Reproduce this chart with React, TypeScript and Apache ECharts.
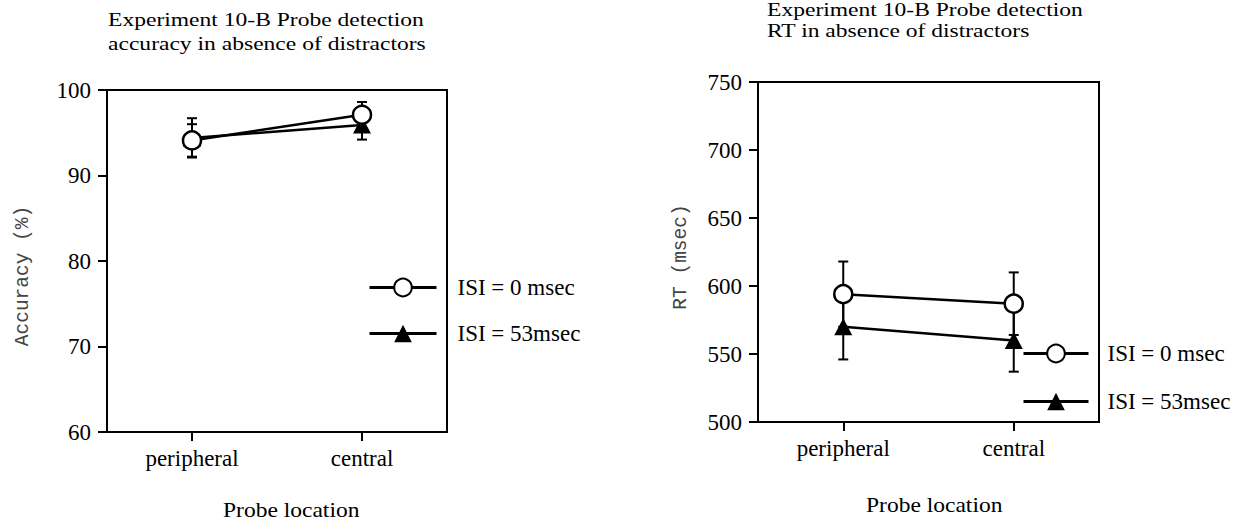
import React, { useEffect, useRef } from "react";
import * as echarts from "echarts";

const categories = ["peripheral", "central"];
const seriesNames = ["ISI = 0 msec", "ISI = 53msec"];

// Left chart: accuracy (%)
const accIsi0 = [94.1, 97.1];
const accIsi53 = [94.4, 95.9];
const accIsi0Err = [1.9, 1.5];
const accIsi53Err = [2.3, 1.7];

// Right chart: RT (msec)
const rtIsi0 = [594, 587];
const rtIsi53 = [570, 560];
const rtIsi0Err = [24, 23];
const rtIsi53Err = [24, 23];

const accTicks = { min: 60, max: 100, interval: 10 };
const rtTicks = { min: 500, max: 750, interval: 50 };

const SERIF = '"Liberation Serif", "Times New Roman", serif';
const MONO = '"Liberation Mono", "DejaVu Sans Mono", monospace';

function errData(vals: number[], errs: number[]) {
  return vals.map((v, i) => [i, v - errs[i], v + errs[i]]);
}

const errRender = (params: any, api: any) => {
  const lo = api.coord([api.value(0), api.value(1)]);
  const hi = api.coord([api.value(0), api.value(2)]);
  const cw = 5;
  const st = { stroke: "#000", lineWidth: 2 };
  return {
    type: "group",
    children: [
      { type: "line", shape: { x1: lo[0], y1: lo[1], x2: hi[0], y2: hi[1] }, style: st },
      { type: "line", shape: { x1: lo[0] - cw, y1: lo[1], x2: lo[0] + cw, y2: lo[1] }, style: st },
      { type: "line", shape: { x1: hi[0] - cw, y1: hi[1], x2: hi[0] + cw, y2: hi[1] }, style: st },
    ],
  };
};

function xAxisCfg(gridIndex: number) {
  return {
    type: "category",
    gridIndex,
    data: categories,
    boundaryGap: true,
    axisLine: { show: true, lineStyle: { color: "#000", width: 2 } },
    axisTick: { show: true, alignWithLabel: true, length: 9, lineStyle: { color: "#000", width: 2 } },
    axisLabel: { color: "#000", fontFamily: SERIF, fontSize: 23, margin: 15 },
    splitLine: { show: false },
  };
}

function yAxisCfg(gridIndex: number, t: { min: number; max: number; interval: number }) {
  return {
    type: "value",
    gridIndex,
    min: t.min,
    max: t.max,
    interval: t.interval,
    axisLine: { show: true, lineStyle: { color: "#000", width: 2 } },
    axisTick: { show: true, length: 9, lineStyle: { color: "#000", width: 2 } },
    axisLabel: { color: "#000", fontFamily: SERIF, fontSize: 23, margin: 16 },
    splitLine: { show: false },
  };
}

function lineSeries(name: string, idx: number, data: number[], open: boolean) {
  return {
    type: "line",
    name,
    xAxisIndex: idx,
    yAxisIndex: idx,
    data,
    symbol: open ? "circle" : "triangle",
    symbolSize: open ? 18 : [18, 17],
    z: open ? 5 : 4,
    lineStyle: { color: "#000", width: 2.5 },
    itemStyle: open
      ? { color: "#fff", borderColor: "#000", borderWidth: 2.5 }
      : { color: "#000", borderColor: "#000", borderWidth: 0 },
  };
}

function legendCfg(left: number, top: number, itemWidth: number, gap: number, pad: number) {
  return {
    orient: "vertical",
    left,
    top,
    padding: 0,
    itemWidth,
    itemHeight: 22,
    itemGap: gap,
    data: seriesNames,
    selectedMode: false,
    lineStyle: { width: 3, color: "#000" },
    textStyle: { color: "#000", fontFamily: SERIF, fontSize: 23, lineHeight: 22, padding: [0, 0, 0, pad] },
  };
}

export default function App() {
  const ref = useRef<HTMLDivElement>(null);
  useEffect(() => {
    if (!ref.current) return;
    const chart = echarts.init(ref.current, null, { renderer: "svg" });
    chart.setOption({
      animation: false,
      backgroundColor: "#fff",
      grid: [
        { left: 107, top: 90, width: 340, height: 342, show: true, borderColor: "#000", borderWidth: 2, backgroundColor: "transparent" },
        { left: 758, top: 82, width: 341, height: 340, show: true, borderColor: "#000", borderWidth: 2, backgroundColor: "transparent" },
      ],
      xAxis: [xAxisCfg(0), xAxisCfg(1)],
      yAxis: [yAxisCfg(0, accTicks), yAxisCfg(1, rtTicks)],
      legend: [legendCfg(368, 276, 67, 23, 16), legendCfg(1022, 342, 65, 25, 14)],
      graphic: [
        {
          type: "text", x: 108, y: 8, scaleX: 1.24,
          style: { text: "Experiment 10-B Probe detection\naccuracy in absence of distractors", font: `19px ${SERIF}`, lineHeight: 24, fill: "#000" },
        },
        {
          type: "text", x: 767, y: -1, scaleX: 1.24,
          style: { text: "Experiment 10-B Probe detection\nRT in absence of distractors", font: `19px ${SERIF}`, lineHeight: 21, fill: "#000" },
        },
        {
          type: "text", x: 23, y: 276, rotation: Math.PI / 2,
          style: { text: "Accuracy (%)", font: `19.5px ${MONO}`, fill: "#444", align: "center", verticalAlign: "middle" },
        },
        {
          type: "text", x: 681, y: 257, rotation: Math.PI / 2,
          style: { text: "RT (msec)", font: `19.5px ${MONO}`, fill: "#444", align: "center", verticalAlign: "middle" },
        },
        {
          type: "text", x: 223, y: 510, scaleX: 1.12,
          style: { text: "Probe location", font: `21px ${SERIF}`, fill: "#000", align: "left", verticalAlign: "middle" },
        },
        {
          type: "text", x: 866, y: 505, scaleX: 1.12,
          style: { text: "Probe location", font: `21px ${SERIF}`, fill: "#000", align: "left", verticalAlign: "middle" },
        },
      ],
      series: [
        { type: "custom", xAxisIndex: 0, yAxisIndex: 0, renderItem: errRender, data: errData(accIsi0, accIsi0Err), z: 2, encode: { x: 0, y: [1, 2] } },
        { type: "custom", xAxisIndex: 0, yAxisIndex: 0, renderItem: errRender, data: errData(accIsi53, accIsi53Err), z: 2, encode: { x: 0, y: [1, 2] } },
        { type: "custom", xAxisIndex: 1, yAxisIndex: 1, renderItem: errRender, data: errData(rtIsi0, rtIsi0Err), z: 2, encode: { x: 0, y: [1, 2] } },
        { type: "custom", xAxisIndex: 1, yAxisIndex: 1, renderItem: errRender, data: errData(rtIsi53, rtIsi53Err), z: 2, encode: { x: 0, y: [1, 2] } },
        lineSeries(seriesNames[0], 0, accIsi0, true),
        lineSeries(seriesNames[1], 0, accIsi53, false),
        lineSeries(seriesNames[0], 1, rtIsi0, true),
        lineSeries(seriesNames[1], 1, rtIsi53, false),
      ],
    });
    return () => chart.dispose();
  }, []);
  return <div ref={ref} style={{ position: "absolute", left: 0, top: 0, width: 1250, height: 529 }} />;
}
